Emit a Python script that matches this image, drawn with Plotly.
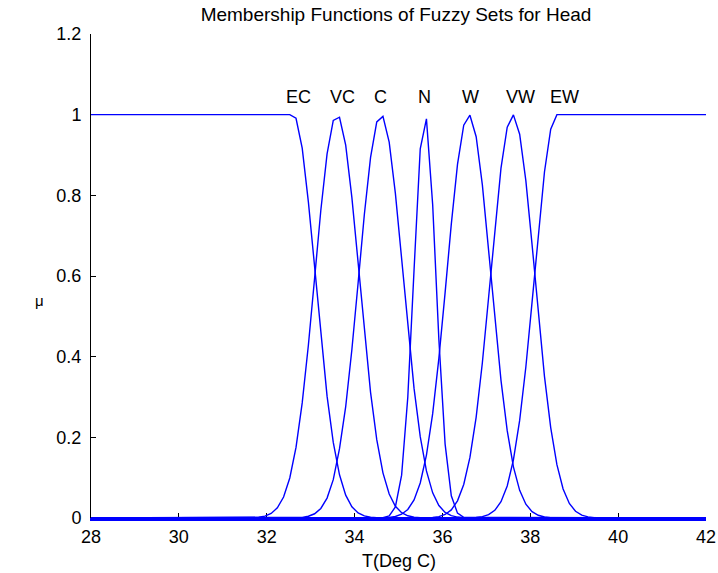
import plotly.graph_objects as go

# ---- data ----
ec_x = [28.0, 32.525, 32.667, 32.808, 32.949, 33.091, 33.232, 33.374, 33.515, 33.657, 33.798,
        33.939, 34.081, 34.222, 34.364, 34.505, 42.0]
ec_y = [1.0, 1.0, 0.9911, 0.9170, 0.7833, 0.6176, 0.4495, 0.3020, 0.1873, 0.1072, 0.0567,
        0.0277, 0.0125, 0.0052, 0.0020, 0.0007, 0.0]

vc_x = [28.0, 31.677, 31.818, 31.960, 32.101, 32.242, 32.384, 32.525, 32.667, 32.808, 32.949,
        33.091, 33.232, 33.374, 33.515, 33.657, 33.798, 33.939, 34.081, 34.222, 34.364,
        34.505, 34.646, 34.788, 34.929, 35.071, 35.212, 35.354, 35.495, 42.0]
vc_y = [0.0, 0.0006, 0.0017, 0.0046, 0.0112, 0.0251, 0.0519, 0.0993, 0.1751, 0.2853, 0.4290,
        0.5955, 0.7631, 0.9027, 0.9857, 0.9936, 0.9246, 0.7942, 0.6298, 0.4610, 0.3115,
        0.1943, 0.1119, 0.0595, 0.0292, 0.0132, 0.0055, 0.0021, 0.0008, 0.0]

c_x = [28.0, 32.808, 32.949, 33.091, 33.232, 33.374, 33.515, 33.657, 33.798, 33.939, 34.081,
       34.222, 34.364, 34.505, 34.646, 34.788, 34.929, 35.071, 35.212, 35.354, 35.495,
       35.636, 35.778, 35.919, 36.061, 36.202, 36.343, 36.485, 42.0]
c_y = [0.0, 0.0016, 0.0043, 0.0105, 0.0237, 0.0494, 0.0950, 0.1720, 0.2763, 0.4178, 0.5833,
       0.7517, 0.8943, 0.9822, 0.9957, 0.9318, 0.8050, 0.6420, 0.4727, 0.3213, 0.2016,
       0.1167, 0.0624, 0.0308, 0.0140, 0.0059, 0.0023, 0.0008, 0.0]

n_x = [28.0, 34.646, 34.788, 34.929, 35.071, 35.212, 35.354, 35.495, 35.636, 35.778, 35.919,
       36.061, 36.202, 36.343, 36.485, 42.0]
n_y = [0.0, 0.0007, 0.0051, 0.0274, 0.1063, 0.3000, 0.6150, 0.9154, 0.9895, 0.7766, 0.4426,
       0.1832, 0.0551, 0.0120, 0.0019, 0.0]

w_x = [28.0, 34.788, 34.929, 35.071, 35.212, 35.354, 35.495, 35.636, 35.778, 35.919, 36.061,
       36.202, 36.343, 36.485, 36.626, 36.768, 36.909, 37.051, 37.192, 37.333, 37.475,
       37.616, 37.758, 37.899, 38.040, 38.182, 38.323, 38.465, 42.0]
w_y = [0.0, 0.0014, 0.0038, 0.0093, 0.0212, 0.0447, 0.0869, 0.1561, 0.2587, 0.3958, 0.5588,
       0.7285, 0.8766, 0.9739, 0.9986, 0.9453, 0.8261, 0.6664, 0.4962, 0.3411, 0.2165,
       0.1268, 0.0686, 0.0342, 0.0158, 0.0067, 0.0026, 0.0010, 0.0]

vw_x = [28.0, 35.778, 35.919, 36.061, 36.202, 36.343, 36.485, 36.626, 36.768, 36.909, 37.051,
        37.192, 37.333, 37.475, 37.616, 37.758, 37.899, 38.040, 38.182, 38.323, 38.465,
        38.606, 38.747, 38.889, 39.030, 39.172, 39.313, 39.455, 42.0]
vw_y = [0.0, 0.0013, 0.0035, 0.0087, 0.0201, 0.0425, 0.0832, 0.1501, 0.2502, 0.3849, 0.5467,
        0.7167, 0.8674, 0.9691, 0.9995, 0.9515, 0.8363, 0.6785, 0.5082, 0.3513, 0.2242,
        0.1321, 0.0718, 0.0361, 0.0167, 0.0072, 0.0028, 0.0010, 0.0]

ew_x = [28.0, 36.768, 36.909, 37.051, 37.192, 37.333, 37.475, 37.616, 37.758, 37.899, 38.040,
        38.182, 38.323, 38.465, 38.606, 42.0]
ew_y = [0.0, 0.0012, 0.0033, 0.0082, 0.0190, 0.0404, 0.0795, 0.1443, 0.2419, 0.3743, 0.5346,
        0.7048, 0.8579, 0.9640, 1.0, 1.0]

set_names = ["EC", "VC", "C", "N", "W", "VW", "EW"]
label_x = [32.4, 33.4, 34.4, 35.4, 36.4, 37.4, 38.4]
label_y = 1.045

x_ticks = [28, 30, 32, 34, 36, 38, 40, 42]
y_ticks = [0, 0.2, 0.4, 0.6, 0.8, 1, 1.2]
y_tick_text = ["0", "0.2", "0.4", "0.6", "0.8", "1", "1.2"]

series = [(ec_x, ec_y), (vc_x, vc_y), (c_x, c_y), (n_x, n_y), (w_x, w_y), (vw_x, vw_y), (ew_x, ew_y)]

FONT = "Liberation Sans, Arial, Helvetica, sans-serif"

fig = go.Figure()
for name, (xs, ys) in zip(set_names, series):
    fig.add_trace(go.Scatter(x=xs, y=ys, mode="lines", name=name,
                             line=dict(color="#0000ff", width=1.4), showlegend=False,
                             hoverinfo="skip"))

annotations = []
for name, lx in zip(set_names, label_x):
    annotations.append(dict(x=lx, y=label_y, xref="x", yref="y", text=name, showarrow=False,
                            xanchor="left", yanchor="middle",
                            font=dict(family=FONT, size=18, color="black")))

annotations.append(dict(x=0.5, y=-0.088, xref="paper", yref="paper", text="T(Deg C)",
                        showarrow=False, xanchor="center", yanchor="middle",
                        font=dict(family=FONT, size=18, color="black")))
annotations.append(dict(x=-0.083, y=0.45, xref="paper", yref="paper", text="μ",
                        showarrow=False, xanchor="center", yanchor="middle",
                        font=dict(family=FONT, size=15, color="black")))

fig.update_layout(
    width=718, height=573,
    margin=dict(l=91, r=12, t=34, b=55),
    paper_bgcolor="white", plot_bgcolor="white",
    title=dict(text="Membership Functions of Fuzzy Sets for Head", x=396 / 718, xanchor="center",
               y=1 - 14 / 573, yanchor="middle",
               font=dict(family=FONT, size=19, color="black")),
    annotations=annotations,
    xaxis=dict(range=[28, 42], tickvals=x_ticks, ticks="inside", ticklen=5, tickcolor="black",
               showgrid=False, zeroline=False, showline=True, linecolor="#0000ff", linewidth=3,
               layer="below traces", automargin=False,
               tickfont=dict(family=FONT, size=18, color="black")),
    yaxis=dict(range=[0, 1.2], tickvals=y_ticks, ticktext=y_tick_text, ticks="inside", ticklen=5,
               tickcolor="black", showgrid=False, zeroline=False, showline=True,
               linecolor="black", linewidth=1, layer="below traces", ticklabelstandoff=5,
               automargin=False, tickfont=dict(family=FONT, size=18, color="black")),
)

# remove the page's default 8px body margin so the figure fills the window
fig.write_html("out.html", config={"displayModeBar": False},
               post_script="document.body.style.margin='0';")
